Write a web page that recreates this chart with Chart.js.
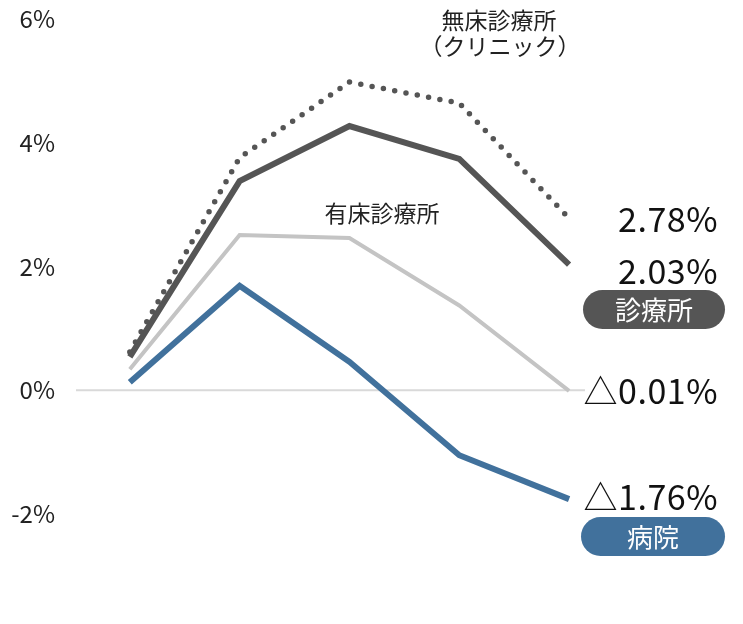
<!DOCTYPE html>
<html><head><meta charset="utf-8">
<script src="https://cdn.jsdelivr.net/npm/chart.js@4/dist/chart.umd.min.js"></script>
<style>html,body{margin:0;padding:0;background:#fff;}#wrap{width:743px;height:624px;position:relative;}</style>
</head><body><div id="wrap"><canvas id="c" width="743" height="624"></canvas></div>
<script>
const categories = ['1', '2', '3', '4', '5'];
const mushou = [0.62, 3.76, 4.98, 4.64, 2.78];   // 無床診療所（クリニック）
const shinryojo = [0.54, 3.38, 4.27, 3.74, 2.03]; // 診療所
const yushou = [0.34, 2.51, 2.46, 1.37, -0.01];   // 有床診療所
const byoin = [0.13, 1.69, 0.46, -1.05, -1.76];   // 病院
const yTicks = [-2, 0, 2, 4, 6];
const endLabels = ['2.78%', '2.03%', '△0.01%', '△1.76%'];

const FONT = "'Noto Sans CJK JP', 'Noto Sans', sans-serif";
const toXY = arr => arr.map((v, i) => ({x: i, y: v}));

const annot = {
  id: 'annot',
  beforeDatasetsDraw(chart) {
    const {ctx, chartArea, scales: {y}} = chart;
    const y0 = y.getPixelForValue(0);
    ctx.save();
    ctx.strokeStyle = '#d9d9d9';
    ctx.lineWidth = 2;
    ctx.beginPath(); ctx.moveTo(chartArea.left, y0); ctx.lineTo(chartArea.right, y0); ctx.stroke();
    ctx.restore();
  },
  afterDraw(chart) {
    const {ctx} = chart;
    ctx.save();
    ctx.fillStyle = '#222';
    ctx.textBaseline = 'middle';
    ctx.font = '23px ' + FONT;
    ctx.textAlign = 'center';
    ctx.fillText('無床診療所', 499, 20);
    ctx.fillText('（クリニック）', 500, 46);
    ctx.fillText('有床診療所', 382, 213);
    ctx.font = '34px ' + FONT;
    ctx.letterSpacing = '0.5px';
    ctx.textAlign = 'right';
    ctx.fillStyle = '#111';
    ctx.fillText(endLabels[0], 718, 219);
    ctx.fillText(endLabels[1], 718, 271);
    ctx.fillText(endLabels[2], 718, 391);
    ctx.fillText(endLabels[3], 718, 497);
    ctx.letterSpacing = '0px';
    function pill(x, yy, w, h, col, txt) {
      ctx.fillStyle = col;
      ctx.beginPath();
      ctx.roundRect(x, yy, w, h, h / 2);
      ctx.fill();
      ctx.fillStyle = '#fff';
      ctx.font = '26px ' + FONT;
      ctx.textAlign = 'center';
      ctx.fillText(txt, x + w / 2, yy + h / 2 + 1);
    }
    pill(583, 290, 142, 39, '#555555', '診療所');
    pill(581, 517, 144, 39, '#41719c', '病院');
    ctx.restore();
  }
};

new Chart(document.getElementById('c'), {
  type: 'line',
  data: {
    labels: categories,
    datasets: [
      {label: '無床診療所', data: toXY(mushou), borderColor: '#555555', borderWidth: 5.5, borderDash: [0, 11.5], borderCapStyle: 'round', pointRadius: 0, tension: 0},
      {label: '診療所', data: toXY(shinryojo), borderColor: '#555555', borderWidth: 6, pointRadius: 0, tension: 0},
      {label: '有床診療所', data: toXY(yushou), borderColor: '#c4c4c4', borderWidth: 4, pointRadius: 0, tension: 0},
      {label: '病院', data: toXY(byoin), borderColor: '#41719c', borderWidth: 6, pointRadius: 0, tension: 0}
    ]
  },
  options: {
    responsive: false,
    animation: false,
    layout: {padding: {left: 0, right: 158, top: 19, bottom: 110}},
    plugins: {legend: {display: false}, tooltip: {enabled: false}},
    scales: {
      x: {type: 'linear', min: -0.49, max: 4.145, display: false},
      y: {
        min: -2, max: 6,
        afterBuildTicks: s => { s.ticks = yTicks.map(v => ({value: v})); },
        grid: {display: false, drawTicks: false},
        border: {display: false},
        afterFit: s => { s.width = 76; s.paddingTop = 0; s.paddingBottom = 0; },
        ticks: {
          padding: 21,
          color: '#222',
          font: {size: 24, family: FONT},
          callback: v => v + '%'
        }
      }
    }
  },
  plugins: [annot]
});
</script>
</body></html>
